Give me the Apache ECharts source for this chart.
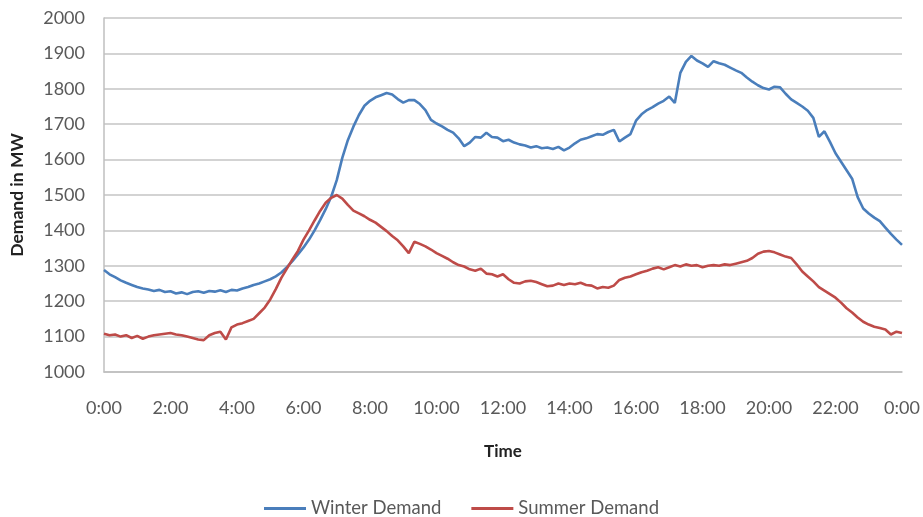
<!DOCTYPE html>
<html><head><meta charset="utf-8">
<script src="https://cdn.jsdelivr.net/npm/echarts@6/dist/echarts.min.js"></script>
<style>html,body{margin:0;padding:0;background:#fff}#c{width:923px;height:517px}</style>
</head><body><div id="c"></div>
<script>
// Time categories every 10 minutes, 0:00 .. 24:00 (shown as 0:00)
var timeCategories = [];
for (var m = 0; m <= 1440; m += 10) {
  var h = Math.floor(m / 60) % 24, mm = m % 60;
  timeCategories.push(h + ':' + (mm < 10 ? '0' : '') + mm);
}
var yTicks = [1000, 2000, 100];

var winterDemand = [
1288,1276,1268,1259,1252,1246,1240,1236,1233,1229,1232,1226,
1228,1222,1225,1220,1226,1228,1224,1229,1227,1231,1226,1232,
1230,1236,1240,1246,1250,1256,1262,1270,1281,1296,1313,1332,
1352,1374,1400,1429,1460,1495,1542,1605,1655,1693,1726,1752,
1766,1776,1782,1788,1784,1771,1761,1768,1768,1757,1740,1712,
1702,1694,1684,1676,1660,1638,1648,1664,1662,1676,1664,1662,
1652,1656,1648,1643,1640,1634,1638,1632,1634,1630,1636,1626,
1634,1646,1656,1660,1666,1672,1670,1678,1684,1651,1662,1672,
1710,1728,1740,1748,1758,1766,1778,1760,1845,1876,1893,1880,
1872,1862,1878,1872,1868,1860,1852,1845,1832,1820,1810,1802,
1798,1806,1804,1786,1770,1760,1750,1738,1718,1664,1680,1650,
1618,1594,1570,1546,1494,1462,1448,1436,1426,1408,1390,1374,
1359];

var summerDemand = [
1108,1104,1106,1100,1104,1096,1102,1094,1100,1104,1106,1108,
1110,1106,1104,1100,1096,1092,1090,1104,1110,1114,1092,1126,
1134,1138,1144,1150,1166,1182,1205,1234,1266,1292,1318,1342,
1374,1400,1428,1455,1478,1492,1500,1490,1472,1456,1448,1440,
1430,1422,1410,1398,1384,1372,1355,1336,1368,1362,1355,1346,
1336,1328,1320,1310,1302,1298,1290,1286,1292,1278,1276,1270,
1276,1262,1252,1250,1256,1258,1254,1248,1242,1244,1250,1246,
1250,1248,1252,1246,1244,1236,1240,1238,1244,1260,1266,1270,
1276,1282,1286,1292,1296,1290,1296,1302,1298,1304,1300,1302,
1296,1300,1302,1300,1304,1302,1306,1310,1314,1322,1334,1340,
1342,1338,1332,1326,1322,1304,1284,1270,1256,1240,1230,1220,
1210,1196,1180,1168,1154,1142,1134,1128,1124,1120,1106,1114,
1110];

var seriesNames = ['Winter Demand', 'Summer Demand'];
var seriesColors = ['#4a7ebb', '#be4b48'];

var FONT = 'Lato';
var chart = echarts.init(document.getElementById('c'), null, {renderer: 'canvas'});
chart.setOption({
  animation: false,
  textStyle: {fontFamily: FONT},
  grid: {left: 104, right: 21, top: 18, bottom: 145, containLabel: false, outerBoundsMode: 'none'},
  legend: {
    top: 494, left: 'center', itemWidth: 42, itemHeight: 3, itemGap: 30,
    icon: 'rect',
    textStyle: {fontFamily: FONT, fontSize: 18.5, color: '#595959'},
    data: seriesNames
  },
  xAxis: {
    type: 'category', data: timeCategories, boundaryGap: false,
    name: 'Time', nameLocation: 'middle', nameGap: 71,
    nameTextStyle: {fontFamily: FONT, fontSize: 17, fontWeight: 'bold', color: '#222'},
    axisLine: {show: true, lineStyle: {color: '#bfbfbf', width: 1.5}},
    axisTick: {show: false},
    axisLabel: {interval: 11, margin: 27, fontSize: 18, color: '#595959', fontFamily: FONT},
    splitLine: {show: false}
  },
  yAxis: {
    type: 'value', min: yTicks[0], max: yTicks[1], interval: yTicks[2],
    name: 'Demand in MW', nameLocation: 'middle', nameGap: 78, nameRotate: 90,
    nameTextStyle: {fontFamily: FONT, fontSize: 17.5, fontWeight: 'bold', color: '#222'},
    axisLine: {show: true, lineStyle: {color: '#bfbfbf', width: 1.5}},
    axisTick: {show: false},
    axisLabel: {margin: 19, fontSize: 18, color: '#595959', fontFamily: FONT,
      formatter: function (v) { return String(v); }},
    splitLine: {show: true, lineStyle: {color: '#c4c4c4', width: 1.5}}
  },
  series: [
    {name: seriesNames[0], type: 'line', data: winterDemand, symbol: 'none',
     lineStyle: {color: seriesColors[0], width: 2.6}, itemStyle: {color: seriesColors[0]}},
    {name: seriesNames[1], type: 'line', data: summerDemand, symbol: 'none',
     lineStyle: {color: seriesColors[1], width: 2.6}, itemStyle: {color: seriesColors[1]}}
  ]
});
</script></body></html>
